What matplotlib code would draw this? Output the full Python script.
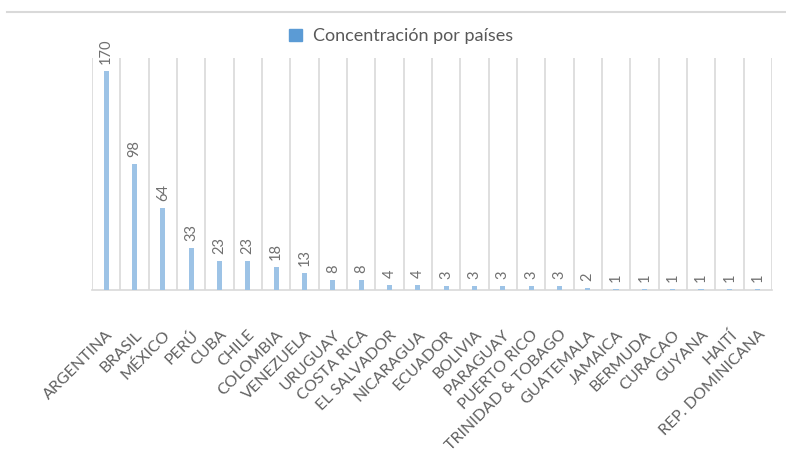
import numpy as np
import matplotlib
matplotlib.use("Agg")
import matplotlib.pyplot as plt
from matplotlib.lines import Line2D
from matplotlib.patches import Patch

paises = ["ARGENTINA", "BRASIL", "MÉXICO", "PERÚ", "CUBA", "CHILE", "COLOMBIA",
          "VENEZUELA", "URUGUAY", "COSTA RICA", "EL SALVADOR", "NICARAGUA",
          "ECUADOR", "BOLIVIA", "PARAGUAY", "PUERTO RICO", "TRINIDAD & TOBAGO",
          "GUATEMALA", "JAMAICA", "BERMUDA", "CURACAO", "GUYANA", "HAITÍ",
          "REP. DOMINICANA"]
valores = [170, 98, 64, 33, 23, 23, 18, 13, 8, 8, 4, 4,
           3, 3, 3, 3, 3, 2, 1, 1, 1, 1, 1, 1]
serie = "Concentración por países"

plt.rcParams['font.family'] = ['Lato', 'DejaVu Sans']
gris = "#595959"
linea = "#D9D9D9"

fig = plt.figure(figsize=(7.86, 4.65), dpi=100)
ax = fig.add_axes([0.117, 0.376, 0.865, 0.499])

x = np.arange(len(paises))
ax.bar(x, valores, width=0.18, color="#9DC3E6", zorder=3)

for xi, v in zip(x, valores):
    ax.annotate(str(v), (xi, v), xytext=(0, 5), textcoords="offset points",
                rotation=90, ha="center", va="bottom", fontsize=10.5,
                color="#707070")

ax.set_xlim(-0.5, len(paises) - 0.5)
ax.set_ylim(0, 180)
ax.set_yticks([])

# lineas verticales entre categorias
for b in np.arange(-0.5, len(paises), 1.0):
    ax.axvline(b, color=linea, lw=1.2, zorder=1)

for s in ["top", "right", "left"]:
    ax.spines[s].set_visible(False)
ax.spines["bottom"].set_color(linea)
ax.spines["bottom"].set_linewidth(1.2)

ax.set_xticks(x)
ax.set_xticklabels(paises, rotation=45, ha="right", rotation_mode="anchor",
                   fontsize=11.5, color="#606060")
ax.tick_params(axis="x", length=0, pad=27)

fig.legend(handles=[Patch(color="#5B9BD5")], labels=[serie],
           loc="center", bbox_to_anchor=(0.51, 0.922), frameon=False,
           fontsize=13, labelcolor=gris, handlelength=0.7, handleheight=0.7,
           handletextpad=0.6)

fig.add_artist(Line2D([0.009, 0.999], [0.974, 0.974], color=linea, lw=1.5))

fig.savefig("out.png", dpi=100)
